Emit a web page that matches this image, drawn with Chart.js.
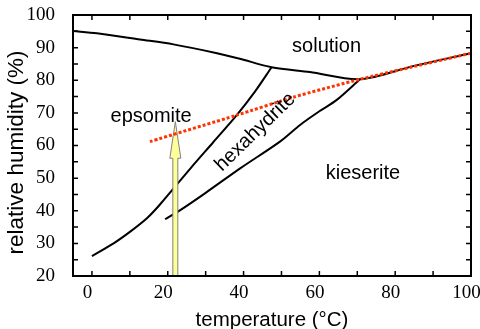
<!DOCTYPE html>
<html>
<head>
<meta charset="utf-8">
<script src="https://cdn.jsdelivr.net/npm/chart.js@4.4.1/dist/chart.umd.min.js"></script>
<style>
  html, body { margin: 0; padding: 0; background: #fff; }
  canvas { display: block; }
</style>
</head>
<body>
<canvas id="myChart" width="480" height="329"></canvas>
<script>
(() => {
  'use strict'

  // phase boundaries, temperature (°C) vs relative humidity (%)
  const solutionT = [-5, 1.3, 12.7, 21.5, 33, 39, 47.4, 57.5, 70.7, 85, 100]
  const solutionRH = [95.1, 94.4, 92.5, 91, 88.3, 86.6, 84, 82.5, 80.3, 84.4, 88.3]

  const epsomiteT = [0, 5.7, 10.1, 14.5, 18, 26, 32, 38.2, 43, 47.4]
  const epsomiteRH = [26.1, 30, 33.6, 37.7, 42, 53, 61, 69.3, 76.5, 84]

  const kieseriteT = [19.3, 23.3, 30, 39.1, 49.6, 54.9, 60, 64.5, 70.7]
  const kieseriteRH = [37.4, 40.2, 45.5, 53, 61.2, 66.3, 70.5, 73.9, 80.3]

  const dottedT = [15.3, 38.2, 53.1, 70.7, 100]
  const dottedRH = [61.2, 69.3, 74.8, 80.3, 88.3]

  // yellow arrow: temperature, start rh, head base rh, tip rh
  const arrowT = 22
  const arrowRH = [20, 56.1, 67.3]

  const xTicks = [0, 10, 20, 30, 40, 50, 60, 70, 80, 90, 100]
  const yTicks = [20, 25, 30, 35, 40, 45, 50, 55, 60, 65, 70, 75, 80, 85, 90, 95, 100]

  const regionNames = ['solution', 'epsomite', 'hexahydrite', 'kieserite']
  const regionT = [61.9, 15.6, 44.1, 71.5]
  const regionRH = [88.6, 67.3, 62.9, 49.6]
  const regionAngle = [0, 0, -44, 0]

  const pts = (xs, ys) => xs.map((x, i) => ({ x: x, y: ys[i] }))
  const black = (xs, ys) => ({
    data: pts(xs, ys),
    borderColor: '#000',
    borderWidth: 2,
    pointRadius: 0,
    tension: 0.3,
    fill: false
  })

  const sans = '"Liberation Sans", Arial, sans-serif'
  const serif = '"Liberation Serif", "Times New Roman", serif'

  const noPad = s => {
    s.paddingLeft = 0
    s.paddingRight = 0
    s.paddingTop = 0
    s.paddingBottom = 0
  }

  const decor = {
    id: 'decor',
    beforeDatasetDraw(chart, args) {
      if (args.index !== 0) return
      const c = chart.ctx
      const xs = chart.scales.x
      const ys = chart.scales.y
      const cx = xs.getPixelForValue(arrowT)
      const yb = ys.getPixelForValue(arrowRH[0])
      const yh = ys.getPixelForValue(arrowRH[1])
      const yt = ys.getPixelForValue(arrowRH[2])
      c.save()
      c.beginPath()
      c.moveTo(cx - 2.5, yb)
      c.lineTo(cx - 2.5, yh)
      c.lineTo(cx - 5.5, yh)
      c.lineTo(cx, yt)
      c.lineTo(cx + 5.5, yh)
      c.lineTo(cx + 2.5, yh)
      c.lineTo(cx + 2.5, yb)
      c.closePath()
      c.fillStyle = '#ffff99'
      c.fill()
      c.strokeStyle = '#808080'
      c.lineWidth = 1
      c.stroke()
      c.restore()
    },
    afterDraw(chart) {
      const c = chart.ctx
      const a = chart.chartArea
      const xs = chart.scales.x
      const ys = chart.scales.y
      c.save()
      c.strokeStyle = '#000'
      c.lineWidth = 2
      c.strokeRect(a.left, a.top, a.right - a.left, a.bottom - a.top)
      c.beginPath()
      xTicks.forEach(v => {
        const px = xs.getPixelForValue(v)
        c.moveTo(px, a.bottom); c.lineTo(px, a.bottom - 5)
        c.moveTo(px, a.top); c.lineTo(px, a.top + 5)
      })
      yTicks.forEach(v => {
        const py = ys.getPixelForValue(v)
        c.moveTo(a.left, py); c.lineTo(a.left + 5, py)
        c.moveTo(a.right, py); c.lineTo(a.right - 5, py)
      })
      c.lineWidth = 1.5
      c.stroke()

      c.fillStyle = '#000'
      c.font = '20px ' + sans
      c.textAlign = 'center'
      c.textBaseline = 'alphabetic'
      regionNames.forEach((name, i) => {
        c.save()
        c.translate(xs.getPixelForValue(regionT[i]), ys.getPixelForValue(regionRH[i]))
        c.rotate(regionAngle[i] * Math.PI / 180)
        c.fillText(name, 0, 0)
        c.restore()
      })

      c.font = '20.5px ' + sans
      c.fillText('temperature (\u00B0C)', (a.left + a.right) / 2, 326)
      c.save()
      c.translate(23, 152.5)
      c.rotate(-Math.PI / 2)
      c.font = '22.5px ' + sans
      c.fillText('relative humidity (%)', 0, 0)
      c.restore()
      c.restore()
    }
  }

  const ctx = document.getElementById('myChart')
  const myChart = new Chart(ctx, {
    type: 'line',
    data: {
      datasets: [
        {
          data: pts(dottedT, dottedRH),
          borderColor: '#ff3300',
          borderWidth: 3,
          borderDash: [3, 2],
          pointRadius: 0,
          tension: 0.2,
          fill: false
        },
        black(solutionT, solutionRH),
        black(epsomiteT, epsomiteRH),
        black(kieseriteT, kieseriteRH)
      ]
    },
    options: {
      responsive: false,
      animation: false,
      devicePixelRatio: 1,
      layout: { padding: { top: 15, right: 9, left: 0, bottom: 0 } },
      plugins: {
        legend: { display: false },
        tooltip: { enabled: false }
      },
      scales: {
        x: {
          type: 'linear',
          min: -5,
          max: 100,
          afterBuildTicks: s => { s.ticks = xTicks.map(v => ({ value: v })) },
          afterFit: s => { s.height = 53; noPad(s) },
          grid: { display: false, drawTicks: false },
          border: { display: false },
          ticks: {
            autoSkip: false,
            maxRotation: 0,
            padding: 6,
            labelOffset: -4.5,
            color: '#000',
            font: { family: serif, size: 19 },
            callback: v => (v % 20 === 0 ? v : '')
          }
        },
        y: {
          type: 'linear',
          min: 20,
          max: 100,
          afterBuildTicks: s => { s.ticks = yTicks.map(v => ({ value: v })) },
          afterFit: s => { s.width = 73; noPad(s) },
          grid: { display: false, drawTicks: false },
          border: { display: false },
          ticks: {
            autoSkip: false,
            padding: 18,
            color: '#000',
            font: { family: serif, size: 19 },
            callback: v => (v % 10 === 0 ? v : '')
          }
        }
      }
    },
    plugins: [decor]
  })
})()
</script>
</body>
</html>
